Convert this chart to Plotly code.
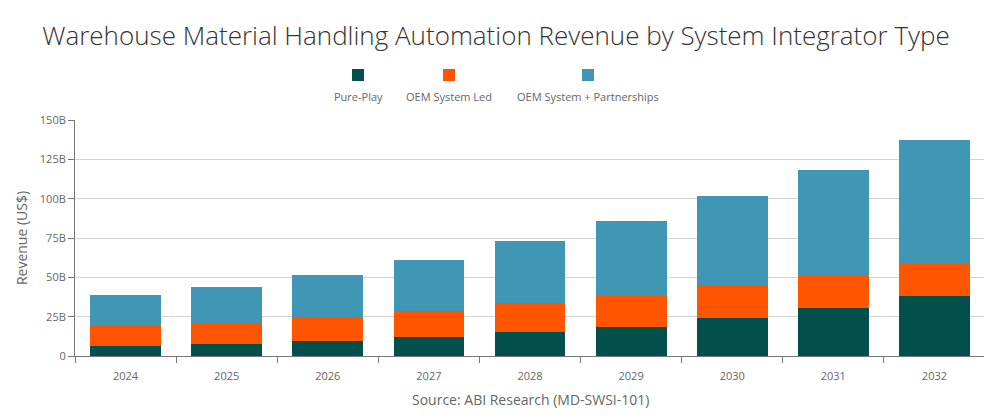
import plotly.graph_objects as go

years = ["2024", "2025", "2026", "2027", "2028", "2029", "2030", "2031", "2032"]
pure_play = [6.4, 7.8, 9.5, 12.1, 15.3, 18.6, 24.4, 30.7, 38.3]
oem_led = [12.9, 13.2, 15.3, 16.5, 18.4, 19.7, 20.3, 20.8, 20.4]
oem_partner = [19.5, 22.9, 26.7, 32.4, 39.4, 47.5, 57.0, 66.7, 78.6]
y_tickvals = [0, 25, 50, 75, 100, 125, 150]
y_ticktext = ["0", "25B", "50B", "75B", "100B", "125B", "150B"]

series_names = ["Pure-Play", "OEM System Led", "OEM System + Partnerships"]
series_colors = ["#034F4B", "#FF5500", "#4096B5"]
series_values = [pure_play, oem_led, oem_partner]

FONT = "Open Sans, Noto Sans, sans-serif"
OFF = 8  # page body margin

fig = go.Figure()
for name, vals, col in zip(series_names, series_values, series_colors):
    fig.add_trace(go.Bar(
        x=years, y=vals, name=name, marker=dict(color=col, line=dict(width=0)),
        hovertemplate="%{x}<br>" + name + ": %{y:.1f}B<extra></extra>",
    ))

# custom legend (square above label)
legend_x = [358, 449, 588]
for lx, name, col in zip(legend_x, series_names, series_colors):
    fig.add_shape(type="rect", xref="paper", yref="paper",
                  x0=(lx - 6 - 75) / 910, x1=(lx + 6 - 75) / 910,
                  y0=(356 - 81) / 236, y1=(356 - 69) / 236,
                  fillcolor=col, line=dict(width=0))
    fig.add_annotation(x=(lx - 75) / 910, y=(356 - 96) / 236, xref="paper", yref="paper",
                       text=name, showarrow=False, xanchor="center", yanchor="middle",
                       font=dict(family=FONT, size=11, color="#666666"))

fig.add_annotation(x=0.5, y=(356 - 399) / 236, xref="paper", yref="paper",
                   text="Source: ABI Research (MD-SWSI-101)", showarrow=False,
                   xanchor="center", yanchor="middle",
                   font=dict(family=FONT, size=14, color="#666666"))

W, H = 992 - OFF, 420 - OFF
fig.update_layout(
    barmode="stack",
    bargap=0.3,
    width=W, height=H,
    margin=dict(l=75 - OFF, r=W - (985 - OFF), t=120 - OFF, b=H - (356 - OFF)),
    paper_bgcolor="white", plot_bgcolor="white",
    showlegend=False,
    title=dict(text="Warehouse Material Handling Automation Revenue by System Integrator Type",
               x=(496 - OFF) / W, xanchor="center", y=1 - (36 - OFF) / H, yanchor="middle",
               font=dict(family=FONT, size=26, color="#333333", weight=300)),
    font=dict(family=FONT, size=11, color="#666666"),
    xaxis=dict(
        showline=True, linecolor="#777777", linewidth=1,
        ticks="outside", tickson="boundaries", ticklen=6, tickcolor="#777777",
        ticklabelstandoff=10,
        tickfont=dict(size=11, color="#666666"),
        showgrid=False,
    ),
    yaxis=dict(
        range=[0, 150],
        tickvals=y_tickvals, ticktext=y_ticktext,
        showline=True, linecolor="#777777", linewidth=1,
        ticks="outside", ticklen=6, tickcolor="#777777",
        tickfont=dict(size=11, color="#666666"),
        showgrid=True, gridcolor="#D3D3D3", gridwidth=1,
        zeroline=False,
        title=dict(text="Revenue (US$)", font=dict(size=14, color="#666666"), standoff=8),
    ),
)

fig.write_html("out.html")
